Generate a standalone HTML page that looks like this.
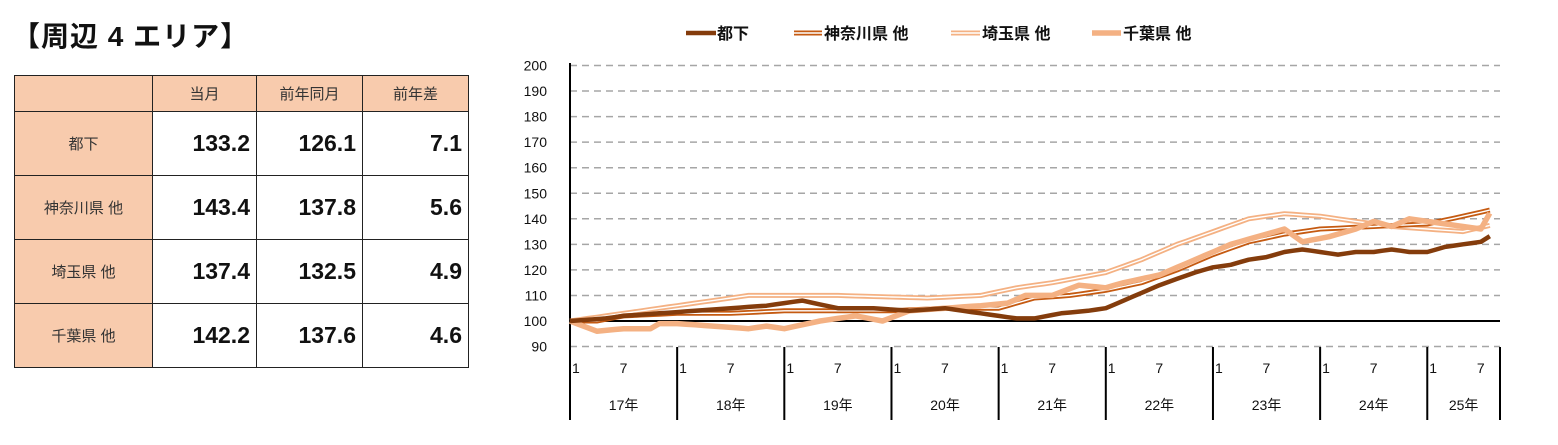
<!DOCTYPE html><html><head><meta charset="utf-8"><style>
body{margin:0;width:1558px;height:445px;background:#fff;position:relative;overflow:hidden;font-family:"Liberation Sans","Noto Sans CJK JP",sans-serif;}
.t{position:absolute;left:12px;top:15px;font-size:28px;font-weight:bold;color:#111;letter-spacing:1px}
table{position:absolute;left:14px;top:75px;border-collapse:collapse;}
td{border:1px solid #222;padding:0;}
tr.h td{height:35px;background:#f8cbad;text-align:center;font-size:15px;color:#333}
tr.r td{height:63px;text-align:right;font-size:23px;font-weight:bold;padding-right:6px;color:#111}
tr.r td.n{background:#f8cbad;text-align:center;font-size:15px;font-weight:normal;padding:0;color:#333}
</style></head><body>
<div class="t">【周辺 4 エリア】</div>
<table>
<tr class="h"><td style="width:137px"></td><td style="width:103px">当月</td><td style="width:105px">前年同月</td><td style="width:105px">前年差</td></tr>
<tr class="r"><td class="n">都下</td><td>133.2</td><td>126.1</td><td>7.1</td></tr>
<tr class="r"><td class="n">神奈川県 他</td><td>143.4</td><td>137.8</td><td>5.6</td></tr>
<tr class="r"><td class="n">埼玉県 他</td><td>137.4</td><td>132.5</td><td>4.9</td></tr>
<tr class="r"><td class="n">千葉県 他</td><td>142.2</td><td>137.6</td><td>4.6</td></tr>
</table>
<svg id="c" width="1558" height="445" style="position:absolute;left:0;top:0" font-family="Liberation Sans, Noto Sans CJK JP, sans-serif"></svg>
<script>
var s=document.getElementById('c'),h='';
function Y(v){return 321-(v-100)*2.555;}
function X(i){return 570+i*8.93;}
for(var v=90;v<=200;v+=10){var y=Y(v);if(v!=100)h+='<line x1="570" x2="1500" y1="'+y+'" y2="'+y+'" stroke="#a6a6a6" stroke-width="1.5" stroke-dasharray="7,5"/>';
h+='<text x="547" y="'+(y+5)+'" font-size="14" text-anchor="end" fill="#111">'+v+'</text>';}
h+='<line x1="570" x2="1500" y1="321" y2="321" stroke="#000" stroke-width="2"/>';
h+='<line x1="570" x2="570" y1="63" y2="420" stroke="#000" stroke-width="2"/>';
var yrs=['17','18','19','20','21','22','23','24','25'];
for(var k=0;k<9;k++){var x0=X(k*12);var x1=k==8?1500:X(k*12+12);
h+='<line x1="'+x1+'" x2="'+x1+'" y1="347" y2="420" stroke="#000" stroke-width="2"/>';
h+='<text x="'+(x0+2)+'" y="373" font-size="14" fill="#111">1</text>';
h+='<text x="'+(X(k*12+6)-4)+'" y="373" font-size="14" fill="#111">7</text>';
h+='<text x="'+((x0+x1)/2)+'" y="410" font-size="14" text-anchor="middle" fill="#111">'+yrs[k]+'年</text>';}
function ser(p){var out=[];for(var j=0;j<p.length-1;j++){var a=p[j],b=p[j+1];for(var i=a[0];i<b[0];i++)out.push([i,a[1]+(b[1]-a[1])*(i-a[0])/(b[0]-a[0])]);}out.push(p[p.length-1]);return out.map(function(q){return X(q[0]).toFixed(1)+','+Y(q[1]).toFixed(1)}).join(' ');}
function pl(pts,c,w){return '<polyline points="'+pts+'" fill="none" stroke="'+c+'" stroke-width="'+w+'" stroke-linejoin="round"/>';}
var kan=ser([[0,100],[3,100],[6,102],[12,103],[18,103],[24,104],[30,104],[36,104],[42,105],[48,105],[52,109],[56,110],[60,112],[64,115],[68,120],[72,126],[76,131],[80,134],[84,136],[90,137],[96,138],[100,141],[103,143.4]]);
var sai=ser([[0,100],[4,102],[8,104],[12,106],[16,108],[20,110],[30,110],[40,109],[46,110],[50,113],[54,115],[60,119],[64,124],[68,130],[72,135],[76,140],[80,142],[84,141],[88,139],[92,137],[96,136],[100,135],[103,137.4]]);
var chi=ser([[0,100],[3,96],[6,97],[9,97],[10,99],[12,99],[16,98],[20,97],[22,98],[24,97],[28,100],[32,102],[35,100],[38,104],[42,105],[46,106],[49,107],[51,110],[54,110],[57,114],[60,113],[62,115],[66,118],[70,124],[74,130],[78,134],[80,136],[82,131],[85,133],[88,136],[90,139],[92,137],[94,140],[98,138],[100,137],[102,136],[103,142.2]]);
var tok=ser([[0,100],[4,101],[6,102],[10,103],[14,104],[18,105],[22,106],[26,108],[30,105],[34,105],[38,104],[42,105],[46,103],[50,101],[52,101],[55,103],[58,104],[60,105],[62,108],[66,114],[70,119],[72,121],[74,122],[76,124],[78,125],[80,127],[82,128],[84,127],[86,126],[88,127],[90,127],[92,128],[94,127],[96,127],[98,129],[100,130],[102,131],[103,133.2]]);
h+=pl(sai,'#f4b183',5)+pl(sai,'#fff',1.4);
h+=pl(kan,'#c55a11',5)+pl(kan,'#fff',1.4);
h+=pl(chi,'#f4b183',5.5);
h+=pl(tok,'#843c0c',4.5);
// legend
h+=pl('686,33 716,33','#843c0c',4.5)+'<text x="717" y="39" font-size="16" font-weight="bold" fill="#111">都下</text>';
h+=pl('794,33 822,33','#c55a11',5)+pl('794,33 822,33','#fff',1.4)+'<text x="824" y="39" font-size="16" font-weight="bold" fill="#111">神奈川県 他</text>';
h+=pl('951,33 980,33','#f4b183',5)+pl('951,33 980,33','#fff',1.4)+'<text x="982" y="39" font-size="16" font-weight="bold" fill="#111">埼玉県 他</text>';
h+=pl('1092,33 1121,33','#f4b183',5.5)+'<text x="1123" y="39" font-size="16" font-weight="bold" fill="#111">千葉県 他</text>';
s.innerHTML=h;
</script>
</body></html>
